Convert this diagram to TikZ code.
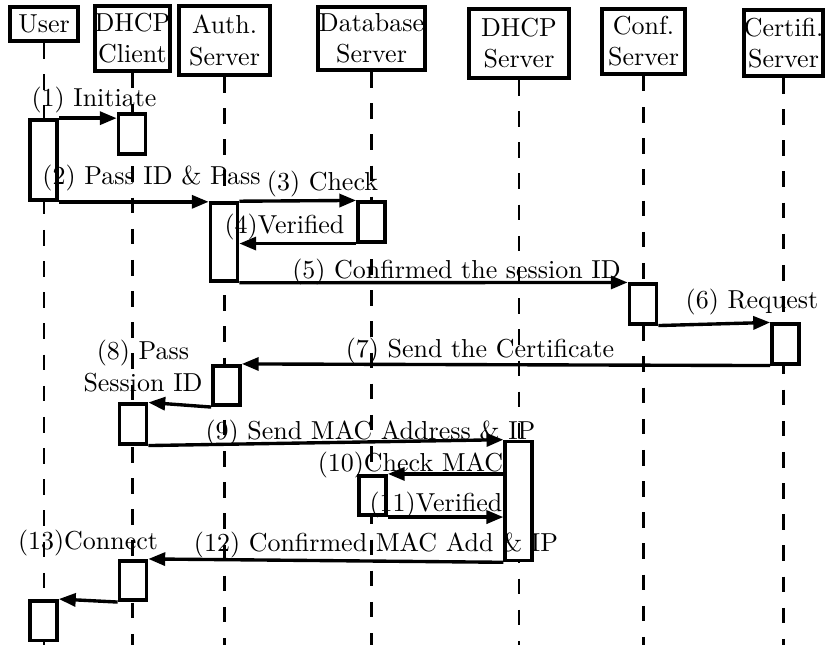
\documentclass[tikz,border=0pt]{standalone}
\usetikzlibrary{arrows.meta}

\tikzset{
  obj/.style={draw, line width=1.5pt, inner sep=0pt, align=center},
  act/.style={draw, fill=white, line width=1.4pt, inner sep=0pt, minimum width=10.4pt, minimum height=15.2pt},
  life/.style={line width=1pt, dash pattern=on 6pt off 6pt},
  msg/.style={line width=1.3pt, -{Triangle[length=6.5pt,width=5pt]}},
  lbl/.style={anchor=base, inner sep=0pt},
}

\begin{document}
\begin{tikzpicture}[x=0.385pt, y=-0.385pt]
\useasboundingbox (0,0) rectangle (826,653);

\node[obj, minimum width=26.2pt, minimum height=13.1pt] (user) at (44,24) {User};
\node[obj, minimum width=28.1pt, minimum height=25pt] (client) at (132.5,38.5) {DHCP\\Client};
\node[obj, minimum width=35pt, minimum height=26.6pt] (auth) at (224.5,40.5) {Auth.\\Server};
\node[obj, minimum width=41.2pt, minimum height=24.3pt] (db) at (371.5,38.5) {Database\\Server};
\node[obj, minimum width=38.5pt, minimum height=26.6pt] (dhcp) at (519,43.5) {DHCP\\Server};
\node[obj, minimum width=32pt, minimum height=25pt] (conf) at (643.5,41.5) {Conf.\\Server};
\node[obj, minimum width=30.4pt, minimum height=25.4pt] (cert) at (783.5,43) {Certifi.\\Server};

\coordinate (bot) at (0,645);
\foreach \o in {user,client,auth,db,dhcp,conf,cert}
	\draw[life] (\o.south) -- (\o.south |- bot);

% activation boxes
\node[act, minimum height=30.8pt] (u1) at (43.5,160) {};
\node[act] (c1) at (132,134) {};
\node[act, minimum height=30pt] (a1) at (224,242) {};
\node[act] (d1) at (371.5,222) {};
\node[act] (f1) at (643,304) {};
\node[act] (r1) at (785.5,344) {};
\node[act] (a2) at (226.5,385.5) {};
\node[act] (c2) at (133,424) {};
\node[act, minimum height=45.8pt] (s1) at (518.7,501) {};
\node[act] (d2) at (372.5,495.5) {};
\node[act] (c3) at (133,580.5) {};
\node[act] (u2) at (43.5,620.6) {};

% messages
\draw[msg] (u1.north east) -- (u1.north east -| c1.west);
\draw[msg] (u1.south east) -- (u1.south east -| a1.west);
\draw[msg] (a1.north east) -- (d1.north west);
\draw[msg] (d1.south west) -- (d1.south west -| a1.east);
\draw[msg] (a1.south east) -- (f1.north west);
\draw[msg] (f1.south east) -- (r1.north west);
\draw[msg] (r1.south west) -- (a2.north east);
\draw[msg] (a2.south west) -- (c2.north east);
\draw[msg] (c2.south east) -- (s1.north west);
\draw[msg] (s1.west |- d2.north east) -- (d2.north east);
\draw[msg] (d2.south east) -- (d2.south east -| s1.west);
\draw[msg] (s1.south west) -- (c3.north east);
\draw[msg] (c3.south west) -- (u2.north east);

\node[lbl] (l1) at (94,107) {(1) Initiate};
\node[lbl] (l2) at (151.5,185) {(2) Pass ID \& Pass};
\node[lbl] (l3) at (322.5,191) {(3) Check};
\node[lbl] (l4) at (284.5,234) {(4)Verified};
\node[lbl] (l5) at (456.5,278.5) {(5) Confirmed the session ID};
\node[lbl] (l6) at (752,309) {(6) Request};
\node[lbl] (l7) at (480,358) {(7) Send the Certificate};
\node[align=center, inner sep=0pt] (l8) at (143,366) {(8) Pass\\Session ID};
\node[lbl] (l9) at (370.5,440) {(9) Send MAC Address \& IP};
\node[lbl] (l10) at (410.5,472) {(10)Check MAC};
\node[lbl] (l11) at (436,512) {(11)Verified};
\node[lbl] (l12) at (376,552) {(12) Confirmed MAC Add \& IP};
\node[lbl] (l13) at (88,550) {(13)Connect};

\end{tikzpicture}
\end{document}
